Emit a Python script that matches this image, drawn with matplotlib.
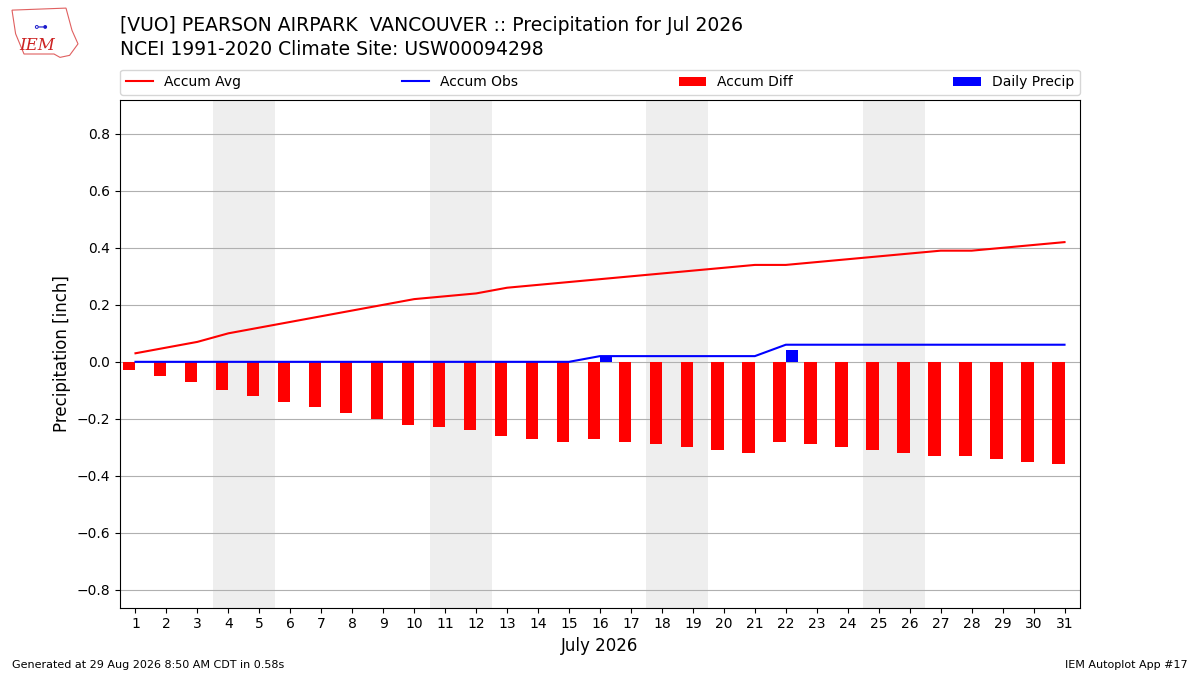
import matplotlib
matplotlib.use("Agg")
import matplotlib.pyplot as plt
from matplotlib.patches import Polygon

days = list(range(1, 32))
accum_avg = [0.03, 0.05, 0.07, 0.10, 0.12, 0.14, 0.16, 0.18, 0.20, 0.22,
             0.23, 0.24, 0.26, 0.27, 0.28, 0.29, 0.30, 0.31, 0.32, 0.33,
             0.34, 0.34, 0.35, 0.36, 0.37, 0.38, 0.39, 0.39, 0.40, 0.41, 0.42]
accum_obs = [0.0] * 15 + [0.02] * 6 + [0.06] * 10
accum_diff = [-0.03, -0.05, -0.07, -0.10, -0.12, -0.14, -0.16, -0.18, -0.20, -0.22,
              -0.23, -0.24, -0.26, -0.27, -0.28, -0.27, -0.28, -0.29, -0.30, -0.31,
              -0.32, -0.28, -0.29, -0.30, -0.31, -0.32, -0.33, -0.33, -0.34, -0.35, -0.36]
daily_precip = [0.0] * 15 + [0.02] + [0.0] * 5 + [0.04] + [0.0] * 9
weekend_starts = [4, 11, 18, 25]

fig = plt.figure(figsize=(12, 6.75), dpi=100)
ax = fig.add_axes([0.1, 0.1, 0.8, 0.752])

for d in weekend_starts:
    ax.axvspan(d - 0.5, d + 1.5, color="#eeeeee", zorder=0, lw=0)

ax.plot(days, accum_avg, color="r", lw=1.5, label="Accum Avg", zorder=3)
ax.plot(days, accum_obs, color="b", lw=1.5, label="Accum Obs", zorder=3)
ax.bar(days, accum_diff, width=-0.4, align="edge", color="r", label="Accum Diff", zorder=2)
ax.bar(days, daily_precip, width=0.4, align="edge", color="b", label="Daily Precip", zorder=2)

ax.set_xlim(0.5, 31.5)
ax.set_ylim(-0.862, 0.919)
ax.set_xticks(days)
ax.set_yticks([-0.8, -0.6, -0.4, -0.2, 0.0, 0.2, 0.4, 0.6, 0.8])
ax.grid(True, axis="y", color="#b0b0b0", lw=0.8)
ax.set_axisbelow(True)
ax.set_xlabel("July 2026", fontsize=12)
ax.set_ylabel("Precipitation [inch]", fontsize=12)
ax.tick_params(labelsize=10)

ax.legend(loc="lower left", bbox_to_anchor=(0, 1.01, 1, 0.05), ncol=4,
          mode="expand", borderaxespad=0, fontsize=10)

fig.text(0.1, 0.962, "[VUO] PEARSON AIRPARK  VANCOUVER :: Precipitation for Jul 2026",
         fontsize=13.5, va="center", ha="left")
fig.text(0.1, 0.927, "NCEI 1991-2020 Climate Site: USW00094298",
         fontsize=13.5, va="center", ha="left")

# logo approximation
logo = Polygon([[0.010, 0.985], [0.055, 0.988], [0.060, 0.955], [0.065, 0.935],
                [0.058, 0.918], [0.050, 0.915], [0.045, 0.920], [0.020, 0.920],
                [0.013, 0.950]], closed=True, fill=False, edgecolor="#e06060",
               lw=0.8, transform=fig.transFigure)
fig.add_artist(logo)
fig.text(0.031, 0.933, "IEM", color="#cc2222", fontsize=12, family="DejaVu Serif",
         style="italic", ha="center", va="center")
fig.text(0.033, 0.962, "⊶", color="#1a1acc", fontsize=10, ha="center", va="center")

fig.text(0.01, 0.015, "Generated at 29 Aug 2026 8:50 AM CDT in 0.58s", fontsize=8,
         ha="left", va="center")
fig.text(0.99, 0.015, "IEM Autoplot App #17", fontsize=8, ha="right", va="center")

fig.savefig("out.png", dpi=100)
